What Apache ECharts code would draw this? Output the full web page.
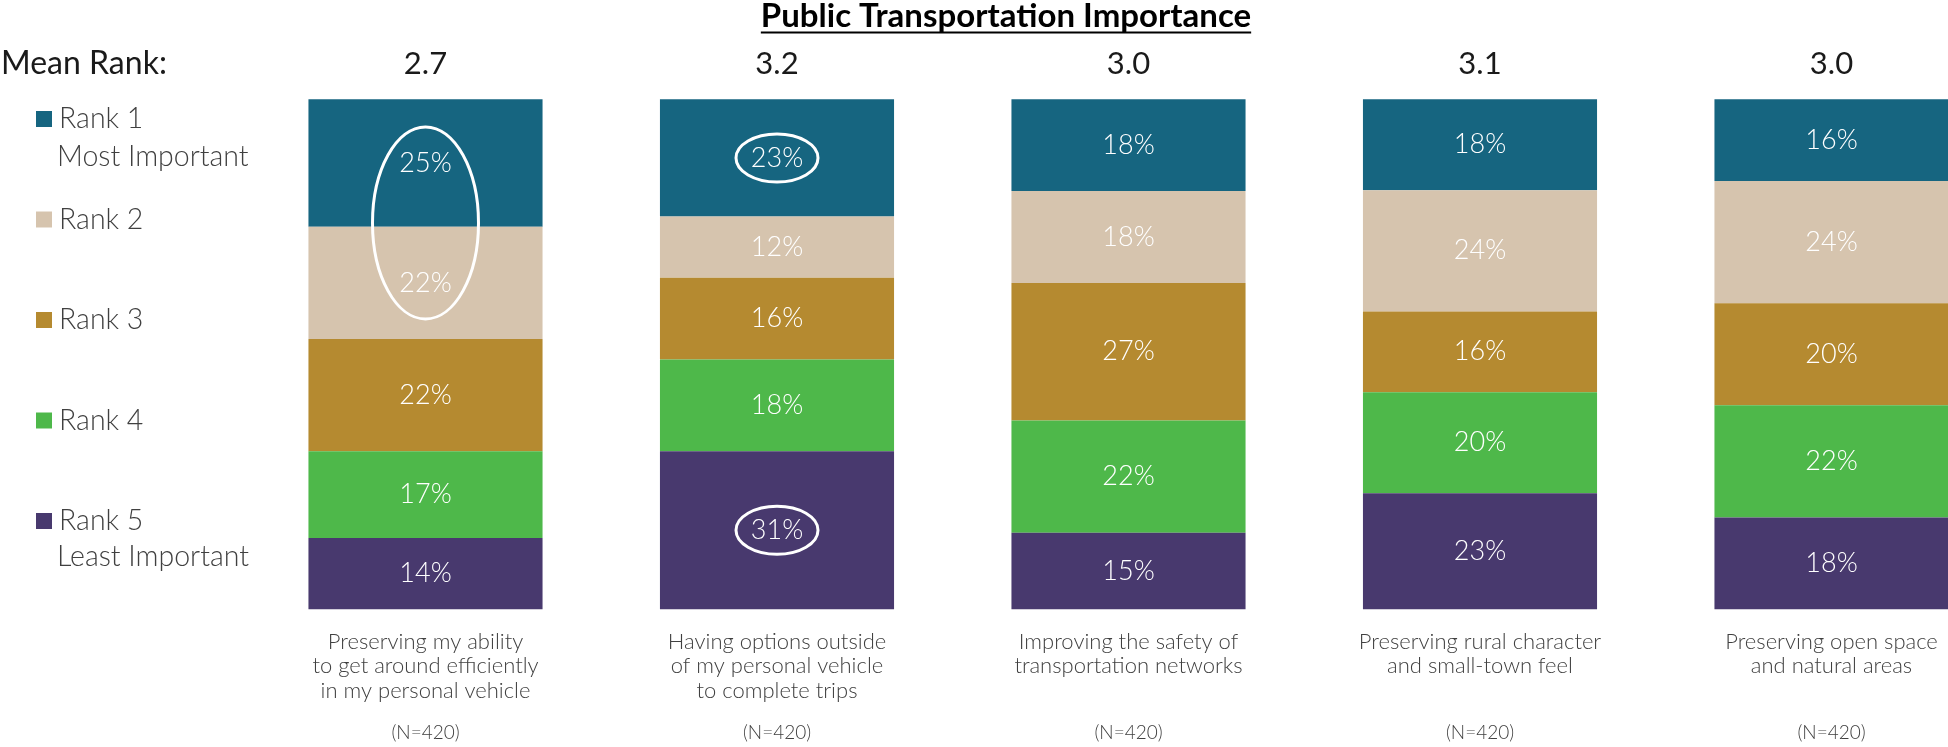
<!DOCTYPE html>
<html><head><meta charset="utf-8">
<script src="https://cdn.jsdelivr.net/npm/echarts@6/dist/echarts.min.js"></script>
<style>html,body{margin:0;padding:0;background:#fff}#c{width:1948px;height:747px}</style>
</head><body><div id="c"></div>
<script>
// ---------- data ----------
const titleText = 'Public Transportation Importance';
const meanRankLabel = 'Mean Rank:';
const categories = [
  'Preserving my ability\nto get around efficiently\nin my personal vehicle',
  'Having options outside\nof my personal vehicle\nto complete trips',
  'Improving the safety of\ntransportation networks',
  'Preserving rural character\nand small-town feel',
  'Preserving open space\nand natural areas'
];
const meanRanks = ['2.7', '3.2', '3.0', '3.1', '3.0'];
const sampleSizes = [420, 420, 420, 420, 420];
const rankNames = ['Rank 1', 'Rank 2', 'Rank 3', 'Rank 4', 'Rank 5'];
const rankNotes = ['Most Important', '', '', '', 'Least Important'];
const rank1 = [25, 23, 18, 18, 16];
const rank2 = [22, 12, 18, 24, 24];
const rank3 = [22, 16, 27, 16, 20];
const rank4 = [17, 18, 22, 20, 22];
const rank5 = [14, 31, 15, 23, 18];
const circled = [ {cat: 0, ranks: [0, 1]}, {cat: 1, ranks: [0]}, {cat: 1, ranks: [4]} ];

// ---------- styles ----------
const rankValues = [rank1, rank2, rank3, rank4, rank5];
const colors = ['#166580', '#D6C4AE', '#B58A30', '#4EB84A', '#48396E'];
const FONT = 'Lato, "Open Sans", "Noto Sans", sans-serif';
const ellipseSizes = [[53, 96], [41, 24], [41, 24]];
const legendNoteY = [156.5, 0, 0, 0, 556.5];

const totals = categories.map((_, i) => rankValues.reduce((s, r) => s + r[i], 0));

const chart = echarts.init(document.getElementById('c'), null, {renderer: 'canvas'});

const series = rankValues.map((vals, r) => ({
  name: rankNames[r],
  type: 'bar',
  stack: 'total',
  barWidth: '66.6%',
  itemStyle: {color: colors[r]},
  label: {
    show: true, position: 'inside', color: '#ffffff', fontSize: 27, fontWeight: 300, fontFamily: FONT,
    formatter: p => rankValues[p.seriesIndex][p.dataIndex] + '%'
  },
  emphasis: {disabled: true},
  data: vals.map((v, i) => v / totals[i] * 100)
}));

const noAxis = {axisLine: {show: false}, axisTick: {show: false}, splitLine: {show: false}};

chart.setOption({
  animation: false,
  backgroundColor: '#ffffff',
  color: colors,
  grid: {left: 249.75, top: 99.3, width: 1757.5, height: 510, containLabel: false, outerBoundsMode: 'none'},
  legend: {
    data: rankNames, orient: 'vertical', left: 31, top: 99,
    itemWidth: 16, itemHeight: 16, itemGap: 70.5, icon: 'rect', selectedMode: false,
    textStyle: {fontSize: 28.5, lineHeight: 30, color: '#404040', fontWeight: 300, fontFamily: FONT, padding: [0, 0, 0, 2]}
  },
  xAxis: [
    Object.assign({type: 'category', position: 'bottom', data: categories,
      axisLabel: {interval: 0, fontSize: 22, lineHeight: 24.5, margin: 20, color: '#404040', fontWeight: 300, fontFamily: FONT}}, noAxis),
    Object.assign({type: 'category', position: 'top', data: meanRanks,
      axisLabel: {interval: 0, fontSize: 31, margin: 19.5, color: '#1a1a1a', fontFamily: FONT}}, noAxis),
    Object.assign({type: 'category', position: 'bottom', offset: 104, data: sampleSizes.map(n => '(N=' + n + ')'),
      axisLabel: {interval: 0, fontSize: 19, margin: 10, color: '#404040', fontWeight: 300, fontFamily: FONT}}, noAxis)
  ],
  yAxis: {type: 'value', min: 0, max: 100, inverse: true, show: false},
  series: series
});

// annotation / text graphics
const TITLE_FONT = 'bold 33px ' + FONT;
const ctx = document.createElement('canvas').getContext('2d');
ctx.font = TITLE_FONT;
const titleW = ctx.measureText(titleText).width;
const titleX = 1006;

const graphics = [
  {type: 'text', x: titleX, y: 16, z: 10,
    style: {text: titleText, font: TITLE_FONT, fill: '#000000', align: 'center', verticalAlign: 'middle'}},
  {type: 'line', z: 10, shape: {x1: titleX - titleW / 2, y1: 32.5, x2: titleX + titleW / 2, y2: 32.5},
    style: {stroke: '#000000', lineWidth: 2}},
  {type: 'text', x: 1, y: 64, z: 10,
    style: {text: meanRankLabel, font: '32px ' + FONT, fill: '#1a1a1a', align: 'left', verticalAlign: 'middle'}}
];
rankNotes.forEach((t, i) => {
  if (!t) return;
  graphics.push({type: 'text', x: 57, y: legendNoteY[i], z: 10,
    style: {text: t, font: '300 28.5px ' + FONT, fill: '#404040', align: 'left', verticalAlign: 'middle'}});
});

function labelCenterY(cat, rank) {
  let before = 0;
  for (let k = 0; k < rank; k++) before += rankValues[k][cat] / totals[cat] * 100;
  const mid = before + rankValues[rank][cat] / totals[cat] * 50;
  return chart.convertToPixel({xAxisIndex: 0, yAxisIndex: 0}, [cat, mid]);
}
circled.forEach((c, j) => {
  const pts = c.ranks.map(r => labelCenterY(c.cat, r));
  const cx = pts.reduce((s, p) => s + p[0], 0) / pts.length;
  const cy = pts.reduce((s, p) => s + p[1], 0) / pts.length;
  graphics.push({type: 'ellipse', z: 20, silent: true,
    shape: {cx: cx, cy: cy, rx: ellipseSizes[j][0], ry: ellipseSizes[j][1]},
    style: {fill: 'none', stroke: '#ffffff', lineWidth: 3}});
});

chart.setOption({graphic: {elements: graphics}});
</script>
</body></html>
